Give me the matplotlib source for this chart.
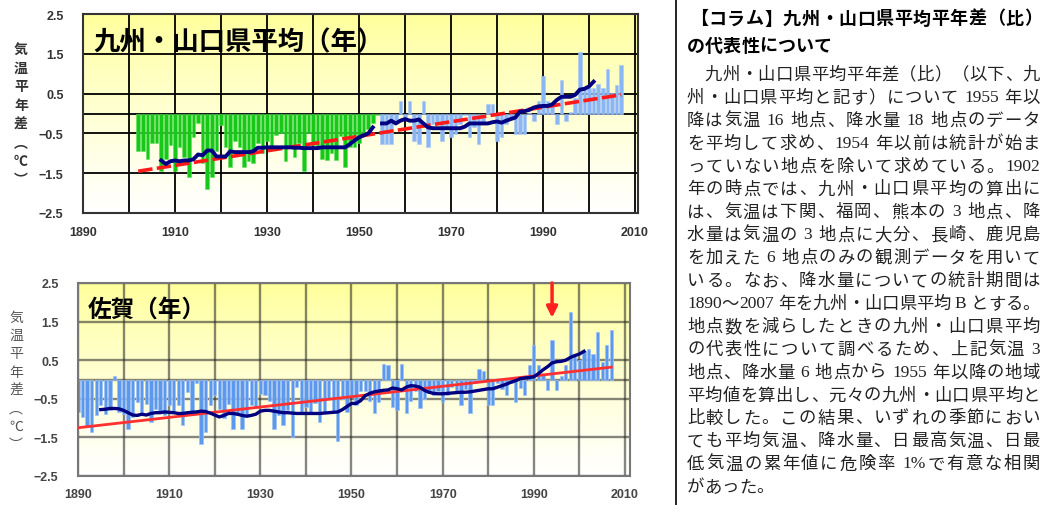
import numpy as np
import matplotlib
matplotlib.use('Agg')
import matplotlib.pyplot as plt

plt.rcParams['font.family'] = ['Noto Sans CJK JP', 'DejaVu Sans']

W, H = 1050, 506

# ---- 九州・山口県平均 (年) ----
kyushu_years = list(range(1902, 2008))
kyushu_anom = [
    -0.95, -0.95, -1.15, -0.75, -0.75, -1.45, -1.15, -0.80, -1.45, -0.85,   # 1902-1911
    -1.10, -1.60, -0.60, -0.25, -1.25, -1.90, -1.60, -0.95, -0.30, -0.85,   # 1912-1921
    -1.35, -0.70, -0.85, -1.35, -1.20, -1.25, -0.75, -1.00, -0.70, -0.85,   # 1922-1931
    -0.55, -0.50, -1.20, -0.80, -1.10, -0.75, -1.45, -0.50, -0.80, -0.85,   # 1932-1941
    -1.15, -1.18, -0.98, -1.18, -0.56, -1.35, -0.85, -0.85, -0.74, -0.50,   # 1942-1951
    -0.40, -0.25, -0.05,                                                    # 1952-1954
    -0.77, -0.77, -0.77, -0.25, 0.32, -0.15, 0.32, -0.68, -0.77, 0.32,      # 1955-1964
    -0.85, -0.27, -0.27, -0.68, -0.40, -0.60, -0.52, -0.27, -0.05, -0.60,   # 1965-1974
    -0.35, -0.77, -0.27, 0.23, 0.23, -0.68, -0.60, -0.27, -0.15, -0.52,     # 1975-1984
    -0.52, -0.52, 0.02, -0.18, 0.32, 0.93, 0.32, 0.23, -0.27, 0.83,         # 1985-1994
    -0.20, 0.05, 0.40, 1.54, 0.65, 0.63, 0.65, 0.73, 0.63, 1.13,            # 1995-2004
    0.52, 0.72, 1.23,                                                       # 2005-2007
]
kyushu_split_year = 1955
kyushu_mean_years = list(range(1907, 2002))
kyushu_mean = [
    -1.18, -1.27, -1.20, -1.18, -1.20, -1.18, -1.18, -1.15, -1.03, -1.05,   # 1907-1916
    -0.93, -0.93, -1.08, -1.08, -1.08, -0.95, -0.97, -0.97, -0.97, -0.97,   # 1917-1926
    -0.95, -0.86, -0.86, -0.85, -0.85, -0.85, -0.85, -0.85, -0.85, -0.86,   # 1927-1936
    -0.86, -0.87, -0.87, -0.87, -0.87, -0.85, -0.85, -0.85, -0.85, -0.85,   # 1937-1946
    -0.85, -0.77, -0.68, -0.60, -0.55, -0.50, -0.35, np.nan, -0.25, -0.25,  # 1947-1956
    -0.18, -0.25, -0.18, -0.14, -0.18, -0.18, -0.15, -0.25, -0.35, -0.37,   # 1957-1966
    -0.37, -0.37, -0.37, -0.37, -0.37, -0.37, -0.33, -0.25, -0.25, -0.25,   # 1967-1976
    -0.25, -0.25, -0.22, -0.20, -0.23, -0.18, -0.14, -0.10, 0.05, 0.06,     # 1977-1986
    0.09, 0.15, 0.18, 0.19, 0.19, 0.23, 0.34, 0.42, 0.42, 0.42,             # 1987-1996
    0.47, 0.60, 0.62, 0.68, 0.80,                                           # 1997-2001
]
kyushu_trend_years = [1902, 2007]
kyushu_trend = [-1.45, 0.47]

# ---- 佐賀 (年) ----
saga_years = list(range(1890, 2008))
saga_anom = [
    -0.85, -0.97, -1.20, -1.36, -0.93, -0.67, -0.89, -0.80, 0.10, -0.85,    # 1890-1899
    -0.90, -1.28, -0.97, -0.59, -0.90, -0.63, -1.10, -0.76, -0.88, -0.92,   # 1900-1909
    -0.67, -0.85, -0.67, -1.19, -0.33, -0.85, -0.10, -1.66, -1.36, -0.67,   # 1910-1919
    -0.41, -0.76, -1.00, -0.63, -1.28, -0.92, -1.28, -0.97, -0.67, -0.75,   # 1920-1929
    -0.37, -0.40, -0.55, -1.27, -0.92, -1.18, -0.80, -1.48, -0.20, -0.85,   # 1930-1939
    -0.70, -0.90, -0.60, -1.10, -0.88, -0.50, -0.88, -1.60, -0.50, -0.85,   # 1940-1949
    -0.40, -0.65, -0.30, -0.30, -0.55, -0.88, -0.58, 0.41, 0.37, -0.70,     # 1950-1959
    -0.80, 0.41, -0.88, -0.55, -0.30, -0.75, -0.50, -0.35, -0.40, -0.30,    # 1960-1969
    -0.58, -0.40, -0.20, -0.30, -0.66, -0.25, -0.88, -0.10, 0.28, 0.22,     # 1970-1979
    -0.66, -0.66, -0.10, -0.25, -0.40, -0.10, -0.58, -0.22, -0.39, 0.37,    # 1980-1989
    0.89, 0.37, 0.15, -0.28, 1.02, -0.28, 0.10, 0.37, 1.75, 0.67,           # 1990-1999
    0.50, 0.75, 0.80, 0.67, 1.23, 0.46, 0.89, 1.28,                         # 2000-2007
]
saga_mean_years = list(range(1895, 2002))
saga_mean = [
    -0.78, -0.77, -0.75, -0.75, -0.76, -0.80, -0.86, -0.92, -0.93, -0.90,   # 1895-1904
    -0.92, -0.88, -0.86, -0.86, -0.84, -0.85, -0.86, -0.88, -0.88, -0.86,   # 1905-1914
    -0.85, -0.84, -0.82, -0.83, -0.87, -0.92, -0.97, -0.93, -0.88, -0.88,   # 1915-1924
    -0.90, -0.93, -0.95, -0.93, -0.90, -0.82, -0.80, -0.80, -0.82, -0.84,   # 1925-1934
    -0.86, -0.86, -0.87, -0.88, -0.88, -0.88, -0.88, -0.88, -0.88, -0.87,   # 1935-1944
    -0.86, -0.85, -0.84, -0.78, -0.70, -0.62, -0.62, -0.55, -0.42, -0.36,   # 1945-1954
    -0.32, -0.30, -0.28, -0.27, -0.22, -0.24, -0.27, -0.20, -0.16, -0.17,   # 1955-1964
    -0.20, -0.28, -0.33, -0.36, -0.37, -0.37, -0.36, -0.35, -0.34, -0.33,   # 1965-1974
    -0.33, -0.32, -0.30, -0.28, -0.26, -0.24, -0.24, -0.20, -0.16, -0.12,   # 1975-1984
    -0.07, -0.03, 0.02, 0.04, 0.05, 0.07, 0.15, 0.25, 0.33, 0.43,           # 1985-1994
    0.46, 0.47, 0.50, 0.57, 0.62, 0.66, 0.73,                               # 1995-2001
]
saga_trend_years = [1890, 2007]
saga_trend = [-1.25, 0.32]
saga_arrow_year = 1994

ytick_vals = [2.5, 1.5, 0.5, -0.5, -1.5, -2.5]
ytick_labels = ['2.5', '1.5', '0.5', '−0.5', '−1.5', '−2.5']
xtick_vals = list(range(1890, 2011, 20))
ylabel_chars = ['気', '温', '平', '年', '差', '︵', '℃', '︶']

column_head = ['【コラム】九州・山口県平均平年差（比）', 'の代表性について']
column_body = [
    '　九州・山口県平均平年差（比）（以下、九',
    '州・山口県平均と記す）について 1955 年以',
    '降は気温 16 地点、降水量 18 地点のデータ',
    'を平均して求め、1954 年以前は統計が始ま',
    'っていない地点を除いて求めている。1902',
    '年の時点では、九州・山口県平均の算出に',
    'は、気温は下関、福岡、熊本の 3 地点、降',
    '水量は気温の 3 地点に大分、長崎、鹿児島',
    'を加えた 6 地点のみの観測データを用いて',
    'いる。なお、降水量についての統計期間は',
    '1890～2007 年を九州・山口県平均 B とする。',
    '地点数を減らしたときの九州・山口県平均',
    'の代表性について調べるため、上記気温 3',
    '地点、降水量 6 地点から 1955 年以降の地域',
    '平均値を算出し、元々の九州・山口県平均と',
    '比較した。この結果、いずれの季節におい',
    'ても平均気温、降水量、日最高気温、日最',
    '低気温の累年値に危険率 1%で有意な相関',
    'があった。',
]

fig = plt.figure(figsize=(W / 100, H / 100), dpi=100)


def px_axes(l, t, r, b):
    return fig.add_axes([l / W, 1 - b / H, (r - l) / W, (b - t) / H])


def setup(ax, xmax, grid_kw, spine_col, lab_col, lab_weight):
    g = np.linspace(0, 1, 256).reshape(-1, 1)
    img = np.dstack([np.ones_like(g), np.ones_like(g), 0.6 + 0.4 * g ** 0.8])
    ax.imshow(img, extent=(0, 1, 0, 1), transform=ax.transAxes,
              aspect='auto', zorder=0)
    ax.set_xlim(1890, xmax)
    ax.set_ylim(-2.5, 2.5)
    ax.set_yticks(ytick_vals)
    ax.set_yticklabels(ytick_labels)
    ax.set_yticks([0], minor=True)
    ax.set_xticks(xtick_vals)
    ax.set_xticks(range(1900, 2011, 10), minor=True)
    ax.grid(True, which='both', zorder=1, **grid_kw)
    ax.set_axisbelow(True)
    ax.tick_params(which='both', length=0)
    ax.tick_params(axis='y', pad=14)
    ax.tick_params(axis='x', pad=9)
    for lab in ax.get_xticklabels() + ax.get_yticklabels():
        lab.set_fontfamily('Liberation Sans')
        lab.set_fontsize(9)
        lab.set_fontweight(lab_weight)
        lab.set_color(lab_col)
    for s in ax.spines.values():
        s.set_color(spine_col)
        s.set_linewidth(1.5)


def vlabel(x, y0, step, color, weight):
    for i, ch in enumerate(ylabel_chars):
        fig.text(x / W, 1 - (y0 + i * step) / H, ch, ha='center', va='center',
                 fontsize=10, color=color, fontweight=weight)


# top chart
ax1 = px_axes(83, 15, 638, 214)
setup(ax1, 2010.65, dict(color='black', lw=1.3), '#333333', '#333333', 'bold')
yrs = np.array(kyushu_years)
vals = np.array(kyushu_anom)
early = yrs < kyushu_split_year
ax1.bar(yrs[early], vals[early], width=0.8, color='#18c818',
        edgecolor='#5ee05e', lw=0.4, zorder=2)
ax1.bar(yrs[~early], vals[~early], width=0.8, color='#8ab6f5',
        edgecolor='#a9c9f7', lw=0.4, zorder=2)
ax1.plot(kyushu_trend_years, kyushu_trend, color='#ff1a1a', lw=2.6,
         ls=(0, (4, 1.2)), zorder=3)
ax1.plot(kyushu_mean_years, kyushu_mean, color='#000080', lw=2.8, zorder=4)
ax1.text(0.018, 0.86, '九州・山口県平均（年）', transform=ax1.transAxes,
         fontsize=19, fontweight='bold', va='center', zorder=5)
vlabel(21, 50, 18.7, '#333333', 'bold')

# bottom chart
ax2 = px_axes(78, 284, 630, 477)
setup(ax2, 2011.1, dict(color='#222222', lw=1.7, alpha=0.55), '#777777',
      '#444444', 'bold')
ax2.bar(saga_years, saga_anom, width=0.72, color='#5b98ee',
        edgecolor='#9fc2f5', lw=0.5, zorder=2)
ax2.plot(saga_trend_years, saga_trend, color='#ff3030', lw=2.0, zorder=3)
ax2.plot(saga_mean_years, saga_mean, color='#000080', lw=2.4, zorder=4)
ax2.annotate('', xy=(saga_arrow_year, 1.6), xytext=(saga_arrow_year, 2.5),
             arrowprops=dict(arrowstyle='-|>', color='#ff2020', lw=2.5,
                             mutation_scale=16, shrinkA=0, shrinkB=0),
             annotation_clip=False, zorder=6)
ax2.text(0.018, 0.865, '佐賀（年）', transform=ax2.transAxes,
         fontsize=17, fontweight='bold', va='center', zorder=5)
vlabel(16, 318, 18.2, '#555555', 'normal')

# right column text box
fig.add_artist(plt.Line2D([676 / W, 676 / W], [0, 1], color='black', lw=1.2))
renderer = fig.canvas.get_renderer()


def tokens(line):
    out, buf = [], ''
    for ch in line:
        if ch != ' ' and ord(ch) < 128:
            buf += ch
            continue
        if buf:
            out.append(buf)
            buf = ''
        out.append(ch)
    if buf:
        out.append(buf)
    return out


def put_line(line, x0, x1, yc, size, weight, color, justify=True):
    em = size * 100 / 72
    items = []
    for tk in tokens(line):
        if tk == ' ':
            items.append((None, em * 0.25, False))
        elif ord(tk[0]) < 128:
            t = fig.text(0, 1 - yc / H, tk, fontsize=size, fontweight=weight,
                         color=color, va='center', ha='left',
                         family=['Liberation Serif', 'DejaVu Serif'])
            items.append((t, t.get_window_extent(renderer).width, False))
        elif tk == '　':
            items.append((None, em, False))
        else:
            t = fig.text(0, 1 - yc / H, tk, fontsize=size, fontweight=weight,
                         color=color, va='center', ha='center')
            items.append((t, em, True))
    total = sum(w for _, w, _ in items)
    extra = (x1 - x0 - total) / (len(items) - 1) if justify and len(items) > 1 else 0
    x = x0
    for t, w, centered in items:
        if t is not None:
            t.set_x(((x + w / 2) if centered else x) / W)
        x += w + extra


put_line(column_head[0], 690, 1042, 19, 13, 'bold', 'black')
put_line(column_head[1], 687, 860, 46, 13, 'bold', 'black', justify=False)
for i, line in enumerate(column_body):
    put_line(line, 687, 1040, 75 + i * 22.9, 12.5, 'normal', '#222222',
             justify=(i < len(column_body) - 1))

fig.savefig('out.png', dpi=100)
